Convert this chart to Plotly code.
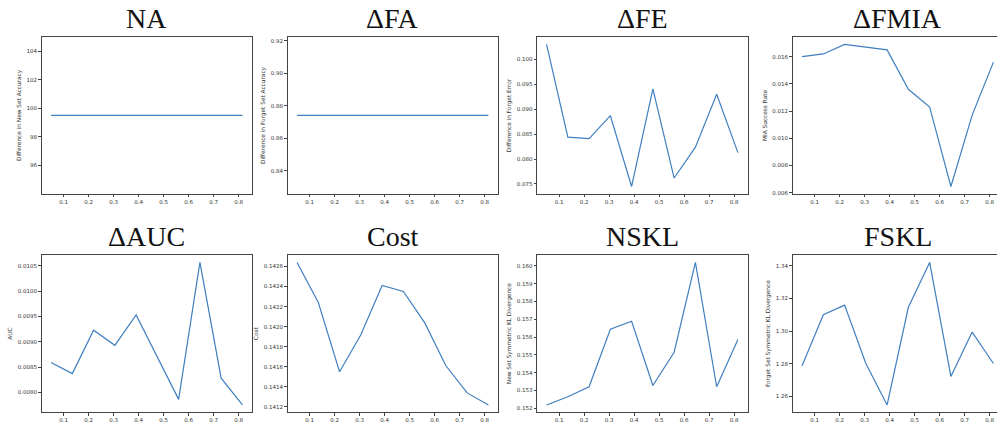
import plotly.graph_objects as go

# ---- data ----
ratios = [0.05, 0.135, 0.22, 0.305, 0.39, 0.475, 0.56, 0.645, 0.73, 0.815]
na = [99.5] * 10
fa = [0.874] * 10
fe = [0.1030, 0.0844, 0.0841, 0.0887, 0.0745, 0.0941, 0.0762, 0.0824, 0.0930, 0.0813]
fmia = [0.0160, 0.0162, 0.0169, 0.0167, 0.0165, 0.0136, 0.0123, 0.00645, 0.0117, 0.0156]
auc = [0.00859, 0.00837, 0.00923, 0.00893, 0.00953, 0.00870, 0.00786, 0.01057, 0.00828, 0.00775]
cost = [0.14264, 0.14224, 0.14155, 0.14192, 0.14241, 0.14235, 0.14204, 0.14161, 0.14134, 0.14122]
nskl = [0.15219, 0.15265, 0.15321, 0.15644, 0.15689, 0.15328, 0.15515, 0.16019, 0.15321, 0.15586]
fskl = [1.2787, 1.3100, 1.3159, 1.2801, 1.2547, 1.3146, 1.3421, 1.2722, 1.2994, 1.2801]

titles = ["NA", "ΔFA", "ΔFE", "ΔFMIA", "ΔAUC", "Cost", "NSKL", "FSKL"]
ylabels = ["Difference in New Set Accuracy", "Difference in Forget Set Accuracy",
           "Difference in Forget Error", "MIA Success Rate", "AUC", "Cost",
           "New Set Symmetric KL Divergence", "Forget Set Symmetric KL Divergence"]
series = [na, fa, fe, fmia, auc, cost, nskl, fskl]
ydticks = [2, 0.02, 0.005, 0.002, 0.0005, 0.0002, 0.001, 0.02]
yformats = [".0f", ".2f", ".3f", ".3f", ".4f", ".4f", ".3f", ".2f"]

# ---- layout ----
W, H = 997, 428
col_px = [(41.5, 252), (287.5, 498), (537, 747.5), (792.5, 1003)]
row_px = [(37.5, 194.5), (256.5, 414)]
title_y_px = [19, 238]
LINE = "#3f7fbf"
AX = "#444444"
TICKF = dict(family="DejaVu Sans", size=5.5, color="#333333")


def lims(vals):
    lo, hi = min(vals), max(vals)
    if hi == lo:
        d = 0.05 * abs(lo)
        lo, hi = lo - d, hi + d
    m = 0.05 * (hi - lo)
    return lo - m, hi + m


fig = go.Figure()
xr0, xr1 = lims(ratios)
annotations = []
for i, vals in enumerate(series):
    r, c = divmod(i, 4)
    n = "" if i == 0 else str(i + 1)
    x0, x1 = col_px[c]
    y0, y1 = row_px[r]
    cut = x1 > W
    dom_x = [x0 / W, min(x1, W) / W]
    dom_y = [1 - y1 / H, 1 - y0 / H]
    xrange = [xr0, xr1]
    if cut:
        ppu = (x1 - x0) / (xr1 - xr0)
        xrange = [xr0, xr0 + (W - x0) / ppu]
    fig.add_trace(go.Scatter(x=ratios, y=vals, mode="lines",
                             line=dict(color=LINE, width=1.2),
                             xaxis="x" + n, yaxis="y" + n, showlegend=False,
                             hoverinfo="skip"))
    fig.layout["xaxis" + n] = dict(
        domain=dom_x, anchor="y" + n, range=xrange, showgrid=False, zeroline=False,
        showline=True, linecolor=AX, linewidth=1, mirror=True,
        ticks="outside", ticklen=2.5, tickwidth=0.8, tickcolor=AX,
        tick0=0, dtick=0.1, tickformat=".1f", tickfont=TICKF)
    fig.layout["yaxis" + n] = dict(
        domain=dom_y, anchor="x" + n, range=list(lims(vals)), showgrid=False,
        zeroline=False, showline=True, linecolor=AX, linewidth=1,
        mirror=(not cut), ticks="outside", ticklen=2.5, tickwidth=0.8,
        tickcolor=AX, tick0=0, dtick=ydticks[i], tickformat=yformats[i],
        tickfont=TICKF,
        title=dict(text=ylabels[i], font=dict(family="DejaVu Sans", size=5.8,
                                              color="#333333"), standoff=4))
    cx = (x0 + x1) / 2
    annotations.append(dict(text=titles[i], x=cx / W, y=1 - title_y_px[r] / H,
                            xref="paper", yref="paper", showarrow=False,
                            xanchor="center", yanchor="middle",
                            font=dict(family="Liberation Serif", size=28,
                                      color="#111111")))

fig.update_layout(width=W, height=H, autosize=False,
                  margin=dict(l=0, r=0, t=0, b=0),
                  paper_bgcolor="white", plot_bgcolor="white",
                  annotations=annotations, hovermode=False)

fig.write_html(
    "out.html",
    config={"displayModeBar": False},
    post_script="document.body.style.margin='0';"
                "document.documentElement.style.overflow='hidden';",
)
